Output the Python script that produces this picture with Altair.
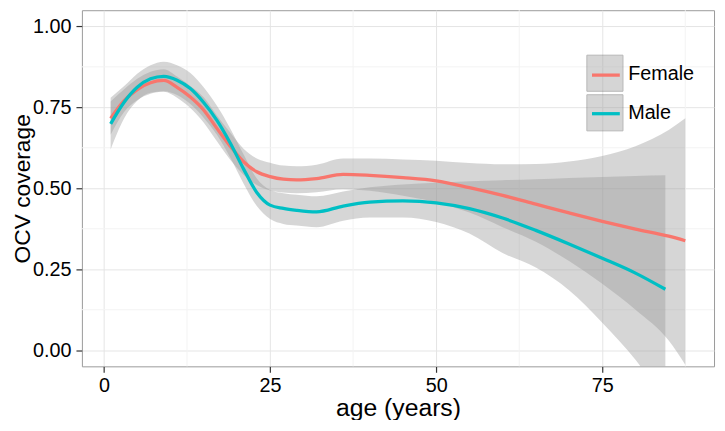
import altair as alt
import pandas as pd

# ---- data ----
f_age = [1, 3, 5, 7, 9, 11, 13, 15, 17, 19, 21, 23, 25, 27, 29, 32, 36, 40, 45, 50, 55, 60, 65, 70, 75, 80, 85, 87.5]
f_fit = [0.716, 0.77, 0.805, 0.826, 0.833, 0.812, 0.782, 0.742, 0.685, 0.63, 0.582, 0.551, 0.536, 0.528, 0.526, 0.53, 0.543, 0.54, 0.533, 0.523, 0.502, 0.478, 0.451, 0.424, 0.398, 0.374, 0.352, 0.338]
f_lo = [0.665, 0.735, 0.772, 0.792, 0.798, 0.78, 0.748, 0.703, 0.645, 0.588, 0.542, 0.51, 0.493, 0.487, 0.485, 0.488, 0.497, 0.492, 0.477, 0.457, 0.425, 0.38, 0.335, 0.275, 0.205, 0.125, 0.03, -0.045]
f_hi = [0.768, 0.805, 0.838, 0.86, 0.868, 0.845, 0.816, 0.781, 0.725, 0.672, 0.622, 0.592, 0.579, 0.57, 0.568, 0.573, 0.592, 0.592, 0.589, 0.585, 0.578, 0.574, 0.575, 0.583, 0.60, 0.63, 0.68, 0.716]

m_age = [1, 3, 5, 7, 9, 11, 13, 15, 17, 19, 21, 23, 25, 27, 29, 32, 36, 40, 45, 50, 55, 60, 65, 70, 75, 80, 84.5]
m_fit = [0.699, 0.765, 0.812, 0.838, 0.846, 0.834, 0.808, 0.765, 0.71, 0.64, 0.56, 0.487, 0.448, 0.438, 0.432, 0.427, 0.445, 0.457, 0.461, 0.455, 0.437, 0.408, 0.37, 0.328, 0.284, 0.238, 0.188]
m_lo = [0.62, 0.715, 0.77, 0.795, 0.80, 0.788, 0.76, 0.718, 0.665, 0.595, 0.515, 0.445, 0.405, 0.39, 0.385, 0.38, 0.40, 0.41, 0.41, 0.396, 0.36, 0.30, 0.255, 0.185, 0.085, -0.03, -0.16]
m_hi = [0.78, 0.815, 0.854, 0.88, 0.891, 0.88, 0.856, 0.812, 0.755, 0.685, 0.605, 0.53, 0.495, 0.485, 0.48, 0.475, 0.49, 0.503, 0.512, 0.517, 0.522, 0.525, 0.528, 0.532, 0.535, 0.538, 0.54]

groups = ["Female", "Male"]
line_colors = ["#F8766D", "#00BFC4"]

x_major = [0, 25, 50, 75]
x_minor = [12.5, 37.5, 62.5, 87.5]
y_major = [0, 0.25, 0.5, 0.75, 1.0]
y_minor = [0.125, 0.375, 0.625, 0.875]

rows = []
for a, fit, lo, hi in zip(f_age, f_fit, f_lo, f_hi):
    rows.append({"age": a, "fit": fit, "lo": lo, "hi": hi, "sex": "Female"})
for a, fit, lo, hi in zip(m_age, m_fit, m_lo, m_hi):
    rows.append({"age": a, "fit": fit, "lo": lo, "hi": hi, "sex": "Male"})
df = pd.DataFrame(rows)

FONT = "Liberation Sans"
xs = alt.Scale(domain=[-3.325, 91.825], nice=False, zero=False)
ys = alt.Scale(domain=[-0.05, 1.05], nice=False, zero=False)

x_axis = alt.Axis(
    values=x_major, format="d", title="age (years)", grid=True, gridColor="#e5e5e5",
    domain=False, tickSize=6, tickColor="#333333", tickWidth=1.2,
    labelFontSize=20, labelFont=FONT, labelColor="#000000", labelPadding=3,
    titleFontSize=25, titleFont=FONT, titleFontWeight="normal", titleColor="#000000",
    titleY=42, titleBaseline="middle")
y_axis = alt.Axis(
    values=y_major, format=".2f", title="OCV coverage", grid=True, gridColor="#e5e5e5",
    domain=False, tickSize=6, tickColor="#333333", tickWidth=1.2,
    labelFontSize=20, labelFont=FONT, labelColor="#000000", labelPadding=5,
    titleFontSize=23, titleFont=FONT, titleFontWeight="normal", titleColor="#000000",
    titleX=-60, titleY=180, titleBaseline="middle")

minor_x = alt.Chart(pd.DataFrame({"v": x_minor})).mark_rule(color="#f3f3f3", strokeWidth=1).encode(
    x=alt.X("v:Q", scale=xs, axis=x_axis)
)
minor_y = alt.Chart(pd.DataFrame({"v": y_minor})).mark_rule(color="#f3f3f3", strokeWidth=1).encode(
    y=alt.Y("v:Q", scale=ys, axis=y_axis)
)

KEY_SIZE = 1332
LX, LY = 509.7, 44.7
ROWPAD = -4.5
band = alt.Chart(df).mark_area(opacity=0.4, interpolate="monotone", clip=True).encode(
    x=alt.X("age:Q", scale=xs, axis=x_axis),
    y=alt.Y("lo:Q", scale=ys, stack=None, axis=y_axis),
    y2="hi:Q",
    fill=alt.Fill("sex:N", scale=alt.Scale(domain=groups, range=["#999999", "#999999"]),
                  legend=alt.Legend(title=None, orient="none", legendX=LX, legendY=LY,
                                    symbolType="M-1,-1H1V1H-1Z", symbolSize=KEY_SIZE, symbolOpacity=0.4,
                                    symbolStrokeColor="#4d4d4d", symbolStrokeWidth=1,
                                    rowPadding=ROWPAD, labelOffset=2.5, labelExpr="''",
                                    labelFontSize=20, labelFont=FONT)),
)

line = alt.Chart(df).mark_line(strokeWidth=3.3, interpolate="monotone").encode(
    x=alt.X("age:Q", scale=xs, axis=x_axis),
    y=alt.Y("fit:Q", scale=ys, axis=y_axis),
    color=alt.Color("sex:N", scale=alt.Scale(domain=groups, range=line_colors),
                    legend=alt.Legend(title=None, orient="none", legendX=LX, legendY=LY,
                                      symbolType="M-0.77,-0.677ZM0.77,0.677ZM-0.77,0.05H0.77",
                                      symbolSize=KEY_SIZE, symbolStrokeWidth=3.3,
                                      rowPadding=ROWPAD, labelOffset=2.5, labelFontSize=20,
                                      labelFont=FONT, labelColor="#000000")),
)

chart = alt.layer(minor_x, minor_y, band, line).resolve_scale(
    color="independent", fill="independent"
).properties(
    width=639, height=360,
    autosize=alt.AutoSizeParams(type="none"),
    padding={"left": 74.7, "top": 0, "right": 3, "bottom": 52},
).configure_view(stroke="#9a9a9a", strokeWidth=1)

chart.save("out.html", embed_options={"renderer": "svg", "actions": False})
